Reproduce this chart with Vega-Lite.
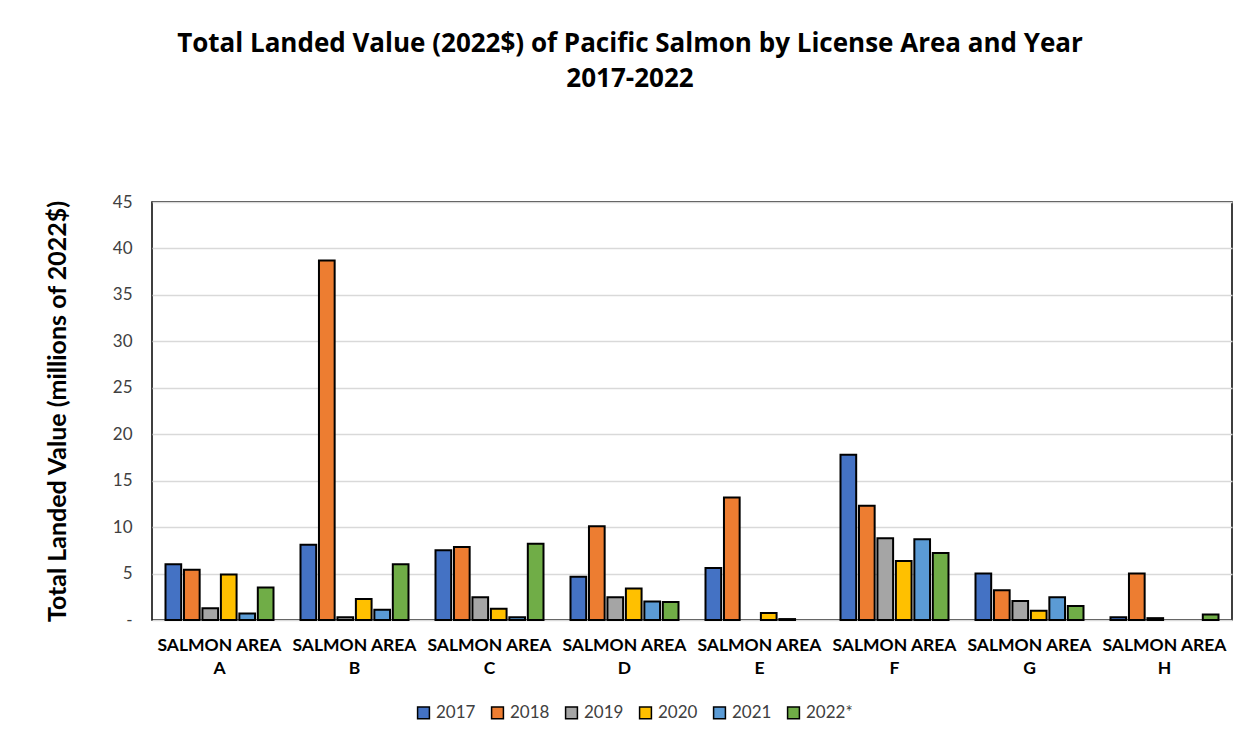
{
  "$schema": "https://vega.github.io/schema/vega-lite/v6.json",
  "autosize": {"type": "none"},
  "width": 1080,
  "height": 418,
  "padding": {"left": 152, "top": 202, "right": 18, "bottom": 118},
  "background": "white",
  "title": {
    "text": ["Total Landed Value (2022$) of Pacific Salmon by License Area and Year", "2017-2022"],
    "font": "Open Sans",
    "fontSize": 26,
    "fontWeight": "bold",
    "color": "#000000",
    "lineHeight": 35,
    "anchor": "middle",
    "dx": -62,
    "offset": 101
  },
  "data": {
    "values": [
      {"area": "A", "year": "2017", "value": 6.0},
      {"area": "A", "year": "2018", "value": 5.4},
      {"area": "A", "year": "2019", "value": 1.27},
      {"area": "A", "year": "2020", "value": 4.9},
      {"area": "A", "year": "2021", "value": 0.7},
      {"area": "A", "year": "2022*", "value": 3.5},
      {"area": "B", "year": "2017", "value": 8.1},
      {"area": "B", "year": "2018", "value": 38.7},
      {"area": "B", "year": "2019", "value": 0.3},
      {"area": "B", "year": "2020", "value": 2.25},
      {"area": "B", "year": "2021", "value": 1.1},
      {"area": "B", "year": "2022*", "value": 6.0},
      {"area": "C", "year": "2017", "value": 7.5},
      {"area": "C", "year": "2018", "value": 7.85},
      {"area": "C", "year": "2019", "value": 2.45},
      {"area": "C", "year": "2020", "value": 1.2},
      {"area": "C", "year": "2021", "value": 0.3},
      {"area": "C", "year": "2022*", "value": 8.2},
      {"area": "D", "year": "2017", "value": 4.65},
      {"area": "D", "year": "2018", "value": 10.1},
      {"area": "D", "year": "2019", "value": 2.45},
      {"area": "D", "year": "2020", "value": 3.4},
      {"area": "D", "year": "2021", "value": 2.0},
      {"area": "D", "year": "2022*", "value": 1.95},
      {"area": "E", "year": "2017", "value": 5.6},
      {"area": "E", "year": "2018", "value": 13.2},
      {"area": "E", "year": "2019", "value": 0},
      {"area": "E", "year": "2020", "value": 0.75},
      {"area": "E", "year": "2021", "value": 0.1},
      {"area": "E", "year": "2022*", "value": 0},
      {"area": "F", "year": "2017", "value": 17.8},
      {"area": "F", "year": "2018", "value": 12.3},
      {"area": "F", "year": "2019", "value": 8.8},
      {"area": "F", "year": "2020", "value": 6.35},
      {"area": "F", "year": "2021", "value": 8.7},
      {"area": "F", "year": "2022*", "value": 7.2},
      {"area": "G", "year": "2017", "value": 5.0},
      {"area": "G", "year": "2018", "value": 3.2},
      {"area": "G", "year": "2019", "value": 2.05},
      {"area": "G", "year": "2020", "value": 1.0},
      {"area": "G", "year": "2021", "value": 2.45},
      {"area": "G", "year": "2022*", "value": 1.5},
      {"area": "H", "year": "2017", "value": 0.3},
      {"area": "H", "year": "2018", "value": 5.0},
      {"area": "H", "year": "2019", "value": 0.2},
      {"area": "H", "year": "2020", "value": 0},
      {"area": "H", "year": "2021", "value": 0},
      {"area": "H", "year": "2022*", "value": 0.6}
    ]
  },
  "transform": [{"filter": "datum.value > 0"}],
  "mark": {"type": "bar", "stroke": "#000000", "strokeWidth": 2},
  "encoding": {
    "x": {
      "field": "area",
      "type": "nominal",
      "scale": {"domain": ["A", "B", "C", "D", "E", "F", "G", "H"], "paddingInner": 0.2, "paddingOuter": 0.1},
      "axis": {
        "title": null,
        "labelAngle": 0,
        "labelExpr": "['SALMON AREA', datum.value]",
        "labelFont": "Lato",
        "labelFontSize": 17.5,
        "labelFontWeight": "bold",
        "labelColor": "#000000",
        "labelLineHeight": 23,
        "labelPadding": 16,
        "ticks": false,
        "domain": false
      }
    },
    "xOffset": {
      "field": "year",
      "type": "nominal",
      "scale": {"domain": ["2017", "2018", "2019", "2020", "2021", "2022*"], "paddingInner": 0.15}
    },
    "y": {
      "field": "value",
      "type": "quantitative",
      "scale": {"domain": [0, 45], "nice": false},
      "axis": {
        "title": "Total Landed Value  (millions of 2022$)",
        "titleFont": "Lato",
        "titleFontSize": 25,
        "titleFontWeight": "bold",
        "titleColor": "#000000",
        "titlePadding": 42,
        "values": [0, 5, 10, 15, 20, 25, 30, 35, 40, 45],
        "labelExpr": "datum.value == 0 ? '-' : datum.label",
        "labelFont": "Lato",
        "labelFontSize": 17,
        "labelColor": "#404040",
        "labelPadding": 20,
        "ticks": false,
        "domain": false,
        "grid": true,
        "gridColor": "#D9D9D9",
        "gridWidth": 1.5
      }
    },
    "color": {
      "field": "year",
      "type": "nominal",
      "scale": {
        "domain": ["2017", "2018", "2019", "2020", "2021", "2022*"],
        "range": ["#4472C4", "#ED7D31", "#A5A5A5", "#FFC000", "#5B9BD5", "#70AD47"]
      },
      "legend": {
        "title": null,
        "orient": "none",
        "direction": "horizontal",
        "legendX": 263,
        "legendY": 502,
        "symbolType": "square",
        "symbolSize": 140,
        "symbolStrokeColor": "#000000",
        "symbolStrokeWidth": 1.5,
        "labelFont": "Lato",
        "labelFontSize": 17,
        "labelColor": "#404040",
        "columnPadding": 12,
        "labelOffset": 4
      }
    }
  },
  "config": {
    "view": {"stroke": "#000000", "strokeWidth": 1.5}
  }
}
